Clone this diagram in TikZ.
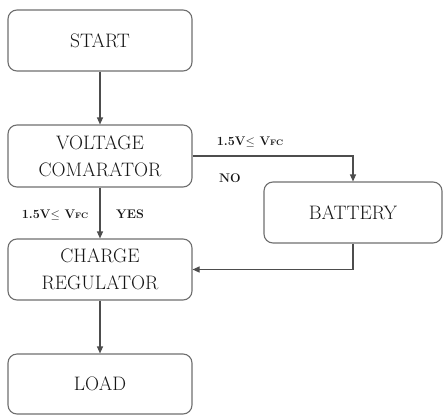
\documentclass[tikz,border=0pt]{standalone}
\usetikzlibrary{arrows.meta}
\definecolor{boxgray}{HTML}{6E6E6E}
\definecolor{txt}{HTML}{151515}
\begin{document}
\begin{tikzpicture}[x=1pt,y=-1pt,
  blk/.style={draw=boxgray, line width=1.1pt, rounded corners=9pt, minimum width=184pt, align=center, text=txt, font=\fontsize{19.5}{27}\selectfont, inner sep=0pt},
  conn/.style={draw=boxgray!70!black, line width=1.1pt, -{Triangle[length=7pt,width=6pt]}},
  lbl/.style={text=txt, font=\fontsize{12.5}{15}\selectfont\bfseries, anchor=base, inner sep=0pt}]
\useasboundingbox (0,0) rectangle (443,415);
\node[blk, minimum height=61pt] (start) at (100,40.5) {START};
\node[blk, minimum height=62pt] (volt) at (100,156) {VOLTAGE\\COMARATOR};
\node[blk, minimum height=61pt] (charge) at (100,269.5) {CHARGE\\REGULATOR};
\node[blk, minimum height=60pt] (load) at (100,384) {LOAD};
\node[blk, minimum height=61pt, minimum width=178pt] (batt) at (353,212.5) {BATTERY};
\draw[conn] (start) -- (volt);
\draw[conn] (volt) -- (charge);
\draw[conn] (charge) -- (load);
\draw[conn] (volt.east) -| (batt.north);
\draw[conn] (batt.south) |- (charge.east);
\node[lbl] (l1) at (250,145) {1.5V$\leq$ V{\fontsize{8}{9}\selectfont FC}};
\node[lbl] (no) at (230,182) {NO};
\node[lbl] (l2) at (55,218) {1.5V$\leq$ V{\fontsize{8}{9}\selectfont FC}};
\node[lbl] (yes) at (130,218) {YES};
\end{tikzpicture}
\end{document}
